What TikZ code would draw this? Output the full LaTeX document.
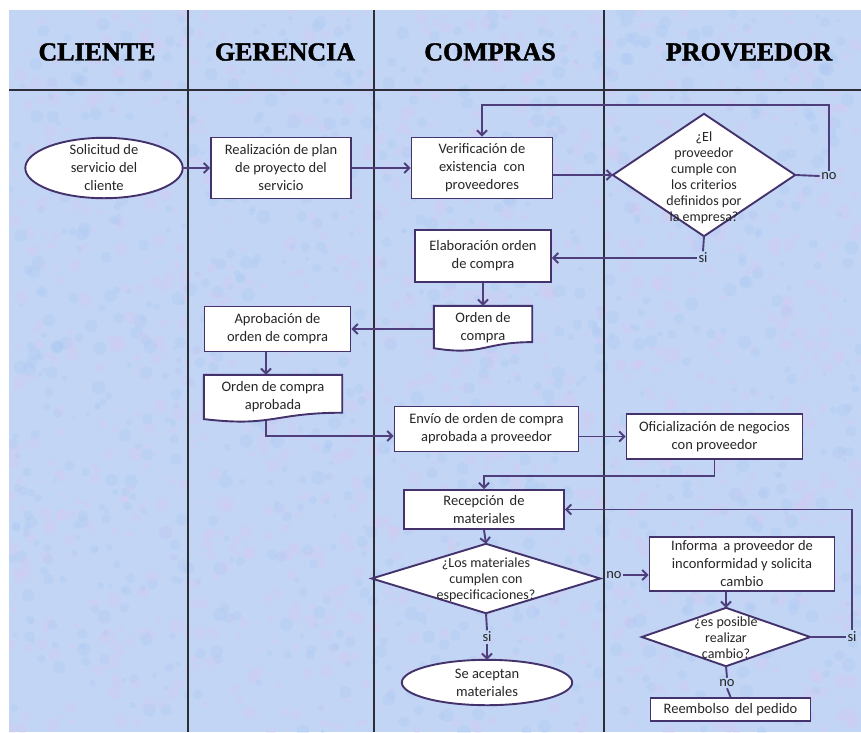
\documentclass[tikz,border=0pt]{standalone}
\usepackage{fontspec}
\setmainfont{Carlito}
\newfontfamily\headfont{Liberation Serif}[BoldFeatures={FakeBold=1.6}]
\usetikzlibrary{calc,arrows.meta}
\pgfdeclarelayer{back}
\pgfdeclarelayer{shapes}
\pgfsetlayers{back,shapes,main}
\definecolor{bgblue}{RGB}{194,213,245}
\definecolor{bgpink}{RGB}{218,198,240}
\definecolor{bgsky}{RGB}{168,200,242}
\definecolor{boxc}{RGB}{68,50,108}
\definecolor{linec}{RGB}{78,62,124}
\definecolor{lanec}{RGB}{45,45,55}
\tikzset{
  bodytext/.style={font=\fontsize{14.5}{18}\selectfont, align=center, text=black!85},
  dectext/.style={font=\fontsize{14}{16}\selectfont, align=center, text=black!85},
  proc/.style={bodytext, rectangle, draw=boxc, line width=1.9pt, fill=white, inner sep=1pt},
  hidden/.style={rectangle, inner sep=0pt},
  shapeline/.style={draw=boxc, line width=1.9pt, fill=white},
  lbl/.style={font=\fontsize{14.5}{15}\selectfont, text=black!85, inner sep=1.5pt},
  conn/.style={draw=linec, line width=1.9pt},
  arr/.style={conn, -{Straight Barb[length=5pt,width=10pt,line width=1.9pt]}},
  lane/.style={draw=lanec, line width=1.3pt},
  head/.style={font=\headfont\bfseries\fontsize{26}{28}\selectfont, text=black}
}
\newcommand\docshape[1]{\begin{pgfonlayer}{shapes}\filldraw[shapeline] (#1.north west) -- (#1.north east) -- ($(#1.north east)!0.80!(#1.south east)$) .. controls ($(#1.north)!0.80!(#1.south)$) and ($(#1.north)!1.107!(#1.south)$) .. ($(#1.north west)!0.934!(#1.south west)$) -- cycle;\end{pgfonlayer}}
\newcommand\diashape[1]{\begin{pgfonlayer}{shapes}\filldraw[shapeline] (#1.north) -- (#1.east) -- (#1.south) -- (#1.west) -- cycle;\end{pgfonlayer}}
\newcommand\ellshape[1]{\begin{pgfonlayer}{shapes}\filldraw[shapeline] let \p1=($(#1.east)-(#1.center)$), \p2=($(#1.north)-(#1.center)$) in (#1.center) ellipse [x radius=\x1, y radius=\y2];\end{pgfonlayer}}
\begin{document}
\begin{tikzpicture}[x=1pt,y=-1pt]
\useasboundingbox (0,0) rectangle (861,732);
\begin{pgfonlayer}{back}
  \fill[bgblue] (9,10) rectangle (861,732);
  \begin{scope}
    \clip (9,10) rectangle (861,732);
    \pgfmathsetseed{11}
    \foreach \i in {1,...,1400}{
      \pgfmathsetmacro\xx{9+852*rnd}
      \pgfmathsetmacro\yy{10+722*rnd}
      \pgfmathsetmacro\rr{2+5*rnd}
      \fill[bgpink, opacity=0.25] (\xx,\yy) circle (\rr pt);
    }
    \foreach \i in {1,...,1000}{
      \pgfmathsetmacro\xx{9+852*rnd}
      \pgfmathsetmacro\yy{10+722*rnd}
      \pgfmathsetmacro\rr{2+5*rnd}
      \fill[bgsky, opacity=0.25] (\xx,\yy) circle (\rr pt);
    }
  \end{scope}
  \draw[lane] (9,90) -- (861,90);
  \draw[lane] (188,10) -- (188,732);
  \draw[lane] (374,10) -- (374,732);
  \draw[lane] (604,10) -- (604,732);
\end{pgfonlayer}

% headers
\node[head] (hcli) at (97,52) {CLIENTE};
\node[head] (hger) at (285,52) {GERENCIA};
\node[head] (hcom) at (490,52) {COMPRAS};
\node[head] (hpro) at (749,52) {PROVEEDOR};

% nodes
\node[hidden, bodytext, minimum width=157pt, minimum height=60pt] (sol) at (104,168) {Solicitud de\\servicio del\\cliente};
\ellshape{sol}
\node[proc, minimum width=140pt, minimum height=61pt] (real) at (281,168) {Realización de plan\\de proyecto del\\servicio};
\node[proc, minimum width=141pt, minimum height=61pt] (ver) at (482,168) {Verificación de\\existencia \ con\\proveedores};
\node[hidden, dectext, minimum width=182pt, minimum height=122pt] (dec1) at (704,175) {};
\diashape{dec1}
\node[dectext, inner sep=0pt] (dec1t) at (704,177.5) {¿El\\proveedor\\cumple con\\los criterios\\definidos por\\la empresa?};
\node[lbl] (no1) at (829,176) {no};
\node[lbl] (si1) at (703,258) {si};
\node[proc, minimum width=136pt, minimum height=52pt] (elab) at (483,256) {Elaboración orden\\de compra};
\node[hidden, bodytext, minimum width=98pt, minimum height=45pt] (doc1) at (483,328.5) {};
\docshape{doc1}
\node[bodytext, inner sep=0pt] (doc1t) at (483,328) {Orden de\\compra};
\node[proc, minimum width=146pt, minimum height=45pt] (apr) at (277.5,329) {Aprobación de\\orden de compra};
\node[hidden, bodytext, minimum width=138pt, minimum height=47pt] (doc2) at (273,398.5) {};
\docshape{doc2}
\node[bodytext, inner sep=0pt] (doc2t) at (273,397) {Orden de compra\\aprobada};
\node[proc, minimum width=184pt, minimum height=45pt] (env) at (486.5,429) {Envío de orden de compra\\aprobada a proveedor};
\node[proc, minimum width=176pt, minimum height=45pt] (ofi) at (714.5,436.5) {Oficialización de negocios\\con proveedor};
\node[proc, minimum width=160pt, minimum height=39pt] (rec) at (484,509.5) {Recepción \,de\\materiales};
\node[hidden, dectext, minimum width=228pt, minimum height=69pt] (dec2) at (486,578.5) {};
\diashape{dec2}
\node[dectext, inner sep=0pt] (dec2t) at (486,580) {¿Los materiales\\cumplen con\\especificaciones?};
\node[lbl] (no2) at (614,575) {no};
\node[proc, minimum width=185pt, minimum height=54pt] (inf) at (742,564) {Informa \,a proveedor de\\inconformidad y solicita\\cambio};
\node[hidden, dectext, minimum width=168pt, minimum height=58pt] (dec3) at (726,637) {};
\diashape{dec3}
\node[dectext, inner sep=0pt] (dec3t) at (726,638) {¿es posible\\realizar\\cambio?};
\node[lbl] (si3) at (852,637) {si};
\node[lbl] (no3) at (727,683) {no};
\node[proc, minimum width=160pt, minimum height=23pt] (reem) at (730.5,709.5) {Reembolso \,del pedido};
\node[lbl] (si2) at (487,637) {si};
\node[hidden, bodytext, minimum width=170pt, minimum height=45pt] (acep) at (487,682.5) {Se aceptan\\materiales};
\ellshape{acep}

% helper coordinates
\coordinate (ytop) at (0,105);
\coordinate (cax) at (266,436);
\coordinate (yofi) at (0,476);

% connectors
\draw[arr] (sol.east) -- (real.west);
\draw[arr] (real.east) -- (ver.west);
\draw[arr] (ver.east |- dec1.west) -- (dec1.west);
\draw[conn] (dec1.east) -- (no1.west);
\draw[arr] (no1.north) |- (ver.north |- ytop) -- (ver.north);
\draw[conn] (dec1.south) -- (si1.north);
\draw[arr] (si1.west) -- (si1.west -| elab.east);
\draw[arr] (elab.south) -- (doc1.north);
\draw[arr] (doc1.west |- apr.east) -- (apr.east);
\draw[arr] (apr.south -| cax) -- (doc2.north -| cax);
\draw[arr] ($(doc2.south -| cax)+(0,-1)$) -- (cax) -- (cax -| env.west);
\draw[arr] (env.east |- ofi.west) -- (ofi.west);
\draw[arr] (ofi.south) |- (rec.north |- yofi) -- (rec.north);
\draw[arr] (rec.south) -- (dec2.north);
\draw[conn] (dec2.south) -- (si2.north);
\draw[arr] (si2.south) -- (acep.north);
\draw[arr] (no2.east) -- (no2.east -| inf.west);
\draw[arr] (inf.south -| dec3.north) -- (dec3.north);
\draw[conn] (dec3.east) -- (si3.west);
\draw[arr] (si3.north) |- (rec.east);
\draw[conn] (dec3.south) -- (no3.north);
\draw[conn] (no3.south) -- (reem.north);
\end{tikzpicture}
\end{document}
